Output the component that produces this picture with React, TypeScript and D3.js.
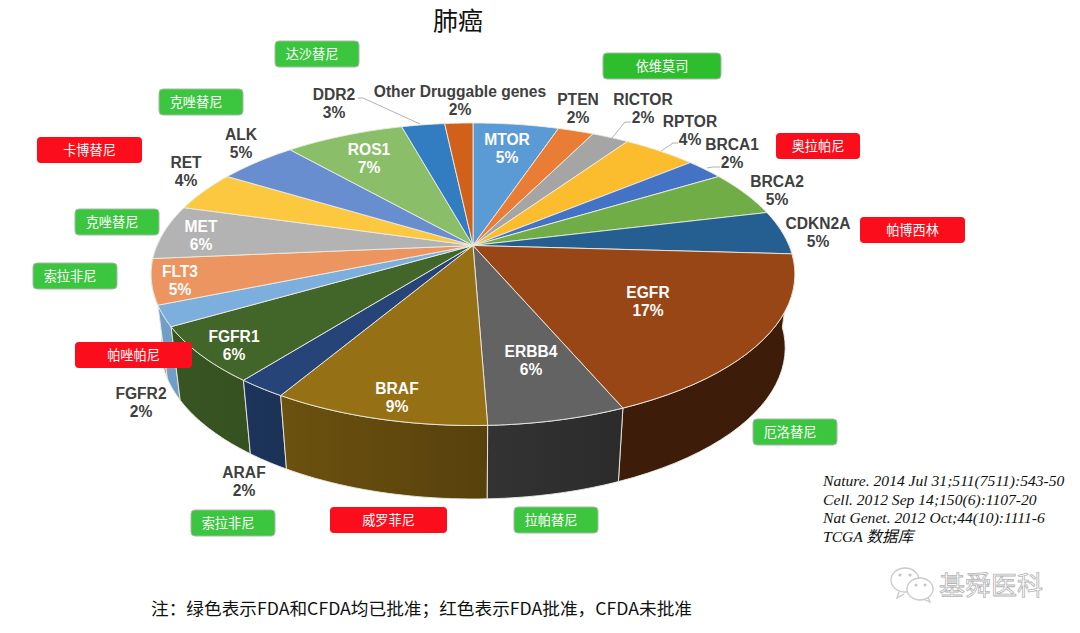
import React from "react";
import * as d3 from "d3";

// ---- Data ----
const genes = ["MTOR","PTEN","RICTOR","RPTOR","BRCA1","BRCA2","CDKN2A","EGFR","ERBB4","BRAF","ARAF","FGFR1","FGFR2","FLT3","MET","RET","ALK","ROS1","DDR2","Other Druggable genes"];
const shares = [5.17,2.16,2.23,4.44,2.3,4.9,4.7,17.7,5.8,9.1,2.1,6.0,2.2,4.8,5.8,4.3,4.8,7.2,2.6,1.7];
const percentLabels = ["5%","2%","2%","4%","2%","5%","5%","17%","6%","9%","2%","6%","2%","5%","6%","4%","5%","7%","3%","2%"];
const sliceColors = ["#5b9bd5","#e97d35","#a5a5a5","#fbbc2e","#4472c4","#70ad47","#255e91","#994617","#636363","#967015","#264478","#426529","#7cafdd","#ec9560","#b3b3b3","#fbc83f","#698ed0","#8bbe69","#327dc2","#d0601a"];
const wallShadeLeft = [1,1,1,1,1,1,0.4,0.4,0.52,0.72,0.76,0.84,0.9,0.86,0.8,1,1,1,1,1];
const wallShadeRight = [1,1,1,1,1,1,0.4,0.4,0.43,0.58,0.72,0.8,0.9,0.86,0.8,1,1,1,1,1];
const insideLabels = ["MTOR","EGFR","ERBB4","BRAF","FGFR1","FLT3","MET","ROS1"];

const labelX = [507,578,643,690,732,777,818,648,531,397,244,234,141,180,201,186,241,369,334,460];
const labelY = [139,99,99,121,144,181,223,292,351,388,472,336,393,271,226,162,134,149,94,91];

const leaderLines = [
  [[358,98],[363,98],[420,124]],
  [[612,138],[625,122],[631,122]],
  [[661,151],[673,143],[678,143]],
  [[707,168],[713,167],[720,167]],
];

const drugNames = ["达沙替尼","克唑替尼","卡博替尼","克唑替尼","索拉非尼","帕唑帕尼","依维莫司","奥拉帕尼","帕博西林","厄洛替尼","拉帕替尼","威罗菲尼","索拉非尼"];
const drugApproved = [1,1,0,1,1,0,2,0,0,1,1,0,1];
const drugBoxX = [275,159,37,75,33,75,603,776,860,753,514,330,191];
const drugBoxY = [41,89,137,209,263,342,53,133,217,419,507,507,510];
const drugBoxW = [84,84,105,84,84,117,118,84,105,84,84,117,84];
const drugBoxH = 26;
const drugFill = ["#fc0d1b","#3cc63f","#2dbd2d"];

const references = ["Nature. 2014 Jul 31;511(7511):543-50","Cell. 2012 Sep 14;150(6):1107-20","Nat Genet. 2012 Oct;44(10):1111-6","TCGA 数据库"];
const titleText = "肺癌";
const noteText = "注：绿色表示FDA和CFDA均已批准；红色表示FDA批准，CFDA未批准";
const watermarkText = "基舜医科";

// ---- Pie geometry: perspective-projected disc ----
const cx = 473, apexY = 245.5, Rx = 316, Ry = 145.8, persp = 0.19;
const wallDepth = 73.5, wallNarrow = 0.97;

function rim(theta: number): [number, number] {
  const u = Math.sin(theta), v = -Math.cos(theta);
  const w = 1 - persp * v;
  return [cx + (Rx * u) / w, apexY + (Ry * v) / w];
}
function rimBottom(theta: number): [number, number] {
  const [x, y] = rim(theta);
  return [cx + (x - cx) * wallNarrow, y + wallDepth];
}
const line = d3.line<[number, number]>().x((d) => d[0]).y((d) => d[1]);
const sample = (a: number, b: number) => d3.range(0, 25).map((i) => a + ((b - a) * i) / 24);

const shade = (c: string, f: number) => {
  const r = d3.rgb(c);
  return d3.rgb(r.r * f, r.g * f, r.b * f).formatHex();
};

const pieData = d3.pie<number>().sort(null).startAngle(0).endAngle(2 * Math.PI)(shares);
const sans = "'Liberation Sans', Arial, sans-serif";
const cjk = "'Noto Sans CJK SC', sans-serif";
const edge = "#ecebe2";

export default function App() {
  const walls = pieData
    .map((d, i) => ({ i, a: Math.max(d.startAngle, Math.PI / 2), b: Math.min(d.endAngle, (3 * Math.PI) / 2) }))
    .filter((w) => w.b > w.a)
    .sort((p, q) => Math.abs((q.a + q.b) / 2 - Math.PI) - Math.abs((p.a + p.b) / 2 - Math.PI));

  return (
    <svg width={1080} height={633} style={{ position: "fixed", left: 0, top: 0, background: "#fff" }}>
      <defs>
        {walls.map((w) => (
          <linearGradient key={w.i} id={`wall${w.i}`} x1="0" x2="1" y1="0" y2="0">
            <stop offset="0" stopColor={shade(sliceColors[w.i], wallShadeLeft[w.i])} />
            <stop offset="1" stopColor={shade(sliceColors[w.i], wallShadeRight[w.i])} />
          </linearGradient>
        ))}
      </defs>

      <text x={458} y={30} textAnchor="middle" fontFamily={cjk} fontSize={25} fill="#111">{titleText}</text>

      {walls.map((w) => {
        const th = sample(w.a, w.b);
        const pts = [...th.map(rim), ...th.slice().reverse().map(rimBottom)];
        return <path key={w.i} d={line(pts) + "Z"} fill={`url(#wall${w.i})`} stroke={edge} strokeWidth={0.9} />;
      })}

      {pieData.map((d, i) => {
        const pts: [number, number][] = [[cx, apexY], ...sample(d.startAngle, d.endAngle).map(rim)];
        return <path key={i} d={line(pts) + "Z"} fill={sliceColors[i]} stroke={edge} strokeWidth={0.9} strokeLinejoin="round" />;
      })}

      {leaderLines.map((l, i) => (
        <path key={i} d={line(l as [number, number][]) ?? ""} fill="none" stroke="#a9a9a9" strokeWidth={0.9} />
      ))}

      {genes.map((g, i) => {
        const inside = insideLabels.includes(g);
        return (
          <g key={i} fontFamily={sans} fontWeight="bold" fontSize={15.6} textAnchor="middle" fill={inside ? "#fdfdfd" : "#404040"}>
            <text x={labelX[i]} y={labelY[i] + 5.5}>{g}</text>
            <text x={labelX[i]} y={labelY[i] + 24}>{percentLabels[i]}</text>
          </g>
        );
      })}

      {drugNames.map((n, i) => (
        <g key={i}>
          <rect x={drugBoxX[i]} y={drugBoxY[i]} width={drugBoxW[i]} height={drugBoxH} rx={4}
            fill={drugFill[drugApproved[i]]} stroke={drugApproved[i] === 0 ? "none" : "#a6b8a6"} strokeWidth={1} />
          <text x={drugBoxX[i] + drugBoxW[i] / 2 + (drugApproved[i] === 1 ? -5 : 0)} y={drugBoxY[i] + 18} textAnchor="middle" fontFamily={cjk} fontSize={13.2} fill="#fff">{n}</text>
        </g>
      ))}

      {references.map((r, i) => (
        <text key={i} x={823} y={486 + i * 18.7} fontFamily="'Liberation Serif', 'Noto Sans CJK SC', serif" fontStyle="italic" fontSize={15.6} fill="#111">{r}</text>
      ))}

      <text x={151} y={615} fontFamily={cjk} fontSize={17} textLength={541} lengthAdjust="spacingAndGlyphs" fill="#111">{noteText}</text>

      <g fill="#fff" stroke="#c9c9c9" strokeWidth={1.3}>
        <path d="M 899 592 L 897 598 L 904 594" />
        <ellipse cx={905} cy={580} rx={14} ry={12} />
        <path d="M 928 597 L 930 602 L 923 599" />
        <ellipse cx={920} cy={589} rx={13} ry={11} />
      </g>
      <g fill="#c4c4c4">
        <circle cx={900} cy={575} r={1.6} />
        <circle cx={910} cy={575} r={1.6} />
        <circle cx={916} cy={585} r={1.5} />
        <circle cx={925} cy={585} r={1.5} />
      </g>
      <text x={939} y={595} fontFamily={cjk} fontSize={26} fill="#fff" stroke="#b5b5b5" strokeWidth={0.8}>{watermarkText}</text>
    </svg>
  );
}
